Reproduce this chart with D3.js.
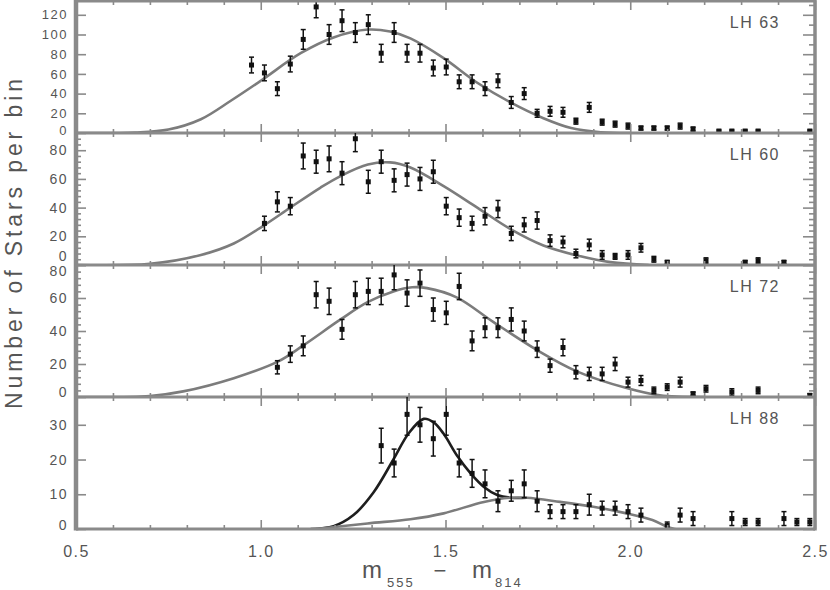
<!DOCTYPE html>
<html><head><meta charset="utf-8">
<script src="https://cdn.jsdelivr.net/npm/d3@7"></script>
<style>body{margin:0;background:#fff}svg{display:block}</style>
</head><body><svg id="c" width="830" height="590"></svg>
<script>
// ---- data ----
const bins = [0.975,1.010,1.045,1.080,1.115,1.150,1.185,1.220,1.256,1.291,
  1.326,1.361,1.396,1.431,1.467,1.502,1.537,1.572,1.607,1.642,
  1.678,1.713,1.748,1.783,1.818,1.853,1.889,1.924,1.959,1.994,
  2.029,2.064,2.100,2.135,2.170,2.205,2.240,2.275,2.311,2.346,
  2.381,2.416,2.451,2.486];

const lh63Counts = [69,61,45,70,95,128,100,114,102,110, 81,102,81,81,66, 67,52,52,45,53, 31,40,20,22,21, 12,26,11,9,7, 5,5,5,7,4, null,2,2,2,2, null,null,null,2];
const lh63Errors = [8,8,7,8,10,11,10,11,10,10, 9,10,9,9,8, 8,7,7,7,7, 6,6,4,5,5, 3,5,3,3,3, 2,2,2,3,2, null,1,1,1,1, null,null,null,1];

const lh60Counts = [null,29,44,41,76,72,74,64,88,58, 72,59,63,60,65, 41,33,29,34,39, 22,28,31,17,16, 8,14,7,6,7, 12,4,2,null,null, 3,null,null,2,3, null,2,null,null];
const lh60Errors = [null,5,7,6,9,8,9,8,9,8, 8,8,8,8,8, 6,6,5,6,6, 5,5,6,4,4, 3,4,3,2,3, 3,2,1,null,null, 2,null,null,1,2, null,1,null,null];

const lh72Counts = [null,null,18,26,31,62,58,41,62,64, 64,74,63,69,53, 51,67,34,42,42, 47,40,29,19,30, 15,14,14,20,9, 10,4,6,9,2, 5,null,3,null,4, null,null,null,1];
const lh72Errors = [null,null,4,5,6,8,8,6,8,8, 8,9,8,8,7, 7,8,6,6,6, 7,6,5,4,5, 4,4,4,4,3, 3,2,2,3,1, 2,null,2,null,2, null,null,null,1];

const lh88Counts = [null,null,null,null,null,null,null,null,null,null, 24,19,33,30,26, 33,19,16,13,8, 11,13,8,5,5, 5,7,6,6,5, 4,null,1,4,3, null,null,3,2,2, null,3,2,2];
const lh88Errors = [null,null,null,null,null,null,null,null,null,null, 5,4,6,5,5, 6,4,4,4,3, 3,4,3,2,2, 2,3,2,2,2, 2,null,1,2,2, null,null,2,1,1, null,2,1,1];

const lh63CurveX = [0.5,0.66,0.75,0.838,0.92,1.0,1.108,1.197,1.29,1.35,1.405,1.495,1.586,1.676,1.765,1.84,1.92,2.0];
const lh63CurveY = [0,0.5,3.5,14,33,53,81,97,105,103,96,76,51,31,15,5,0.8,0];
const lh60CurveX = [0.5,0.7,0.838,0.927,1.008,1.08,1.162,1.216,1.29,1.35,1.405,1.495,1.586,1.676,1.765,1.857,1.946,2.05];
const lh60CurveY = [0,0.8,7,15,27.5,40,54,62,70,71.5,68,55,40,25,13.6,6.6,2,0];
const lh72CurveX = [0.5,0.7,0.79,0.927,1.046,1.116,1.216,1.289,1.359,1.41,1.45,1.53,1.63,1.748,1.857,1.99,2.08,2.2];
const lh72CurveY = [0,0.6,3.4,11.4,21.4,31.4,47,57.5,64,66.5,66,60.4,45.4,28.4,15.4,5.4,1,0];
const lh88TotalX = [1.135,1.197,1.251,1.305,1.359,1.40,1.441,1.468,1.495,1.532,1.568,1.604,1.64,1.676,1.72];
const lh88TotalY = [0,0.8,4,10.5,20,27.5,31.7,30.7,27.4,21,16,12.1,9.8,9,9];
const lh88BroadX = [1.15,1.289,1.405,1.495,1.604,1.676,1.72,1.81,1.9,1.99,2.06,2.12,2.5];
const lh88BroadY = [0,1.6,2.8,4.5,7.8,9,9,7.8,6.4,4.5,2.6,0,0];

const xTickValues = [0.5,1.0,1.5,2.0,2.5];
const lh63YTicks = [0,20,40,60,80,100,120];
const lh60YTicks = [0,20,40,60,80];
const lh72YTicks = [0,20,40,60,80];
const lh88YTicks = [0,10,20,30];

// ---- layout ----
const left = 76, right = 815, top0 = 1, ph = 132;
const axisCol = "#8a8a8a", textCol = "#555", curveCol = "#7c7c7c";
const tf = "Liberation Sans, Arial, sans-serif";
const svg = d3.select("#c");
const x = d3.scaleLinear().domain([0.5, 2.5]).range([left, right]);

const panels = [
  {name:"LH 63", counts:lh63Counts, errors:lh63Errors, max:134, ticks:lh63YTicks, minorL:null, minorR:10,
   zeroDy:"0.1em", topDy:"0.32em", size:13,
   curves:[{x:lh63CurveX, y:lh63CurveY, c:curveCol}]},
  {name:"LH 60", counts:lh60Counts, errors:lh60Errors, max:92, ticks:lh60YTicks, minorL:4, minorR:4,
   zeroDy:"-0.3em", topDy:"0.32em", size:14,
   curves:[{x:lh60CurveX, y:lh60CurveY, c:curveCol}]},
  {name:"LH 72", counts:lh72Counts, errors:lh72Errors, max:80, ticks:lh72YTicks, minorL:4, minorR:4,
   zeroDy:"-0.05em", topDy:"0.75em", size:14,
   curves:[{x:lh72CurveX, y:lh72CurveY, c:curveCol}]},
  {name:"LH 88", counts:lh88Counts, errors:lh88Errors, max:38, ticks:lh88YTicks, minorL:null, minorR:null,
   zeroDy:"0.0em", topDy:"0.32em", size:14,
   curves:[{x:lh88TotalX, y:lh88TotalY, c:"#1e1e1e"}, {x:lh88BroadX, y:lh88BroadY, c:curveCol}]}
];

const minorX = d3.range(5, 26).map(d => d / 10).filter(d => !xTickValues.some(v => Math.abs(v - d) < 1e-9));

panels.forEach((p, i) => {
  const y0 = top0 + i * ph, y1 = y0 + ph;
  const y = d3.scaleLinear().domain([0, p.max]).range([y1, y0]);
  const g = svg.append("g");
  const cid = "clip" + i;
  svg.append("clipPath").attr("id", cid).append("rect")
    .attr("x", left).attr("y", y0).attr("width", right - left).attr("height", ph);
  const pg = g.append("g").attr("clip-path", `url(#${cid})`);

  // curves
  p.curves.forEach(c => {
    const pts = c.x.map((v, k) => [v, c.y[k]]);
    pg.append("path").datum(pts)
      .attr("d", d3.line().x(d => x(d[0])).y(d => Math.min(y(d[1]), y1)).curve(d3.curveCatmullRom.alpha(0.5)))
      .attr("fill", "none").attr("stroke", c.c).attr("stroke-width", 2.6);
  });

  // data points
  const pts = bins.map((b, k) => ({x: b, v: p.counts[k], e: p.errors[k]})).filter(d => d.v != null);
  const eb = pg.append("g").attr("stroke", "#111").attr("stroke-width", 1.5);
  pts.forEach(d => {
    const cx = x(d.x), e = d.e || 0;
    eb.append("line").attr("x1", cx).attr("x2", cx).attr("y1", y(d.v - e)).attr("y2", y(d.v + e));
    eb.append("line").attr("x1", cx - 2.5).attr("x2", cx + 2.5).attr("y1", y(d.v + e)).attr("y2", y(d.v + e));
    eb.append("line").attr("x1", cx - 2.5).attr("x2", cx + 2.5).attr("y1", y(d.v - e)).attr("y2", y(d.v - e));
  });
  pg.append("g").selectAll("rect").data(pts).join("rect")
    .attr("x", d => x(d.x) - 2.5).attr("y", d => y(d.v) - 2.5)
    .attr("width", 5).attr("height", 5).attr("fill", "#111");

  // ticks (inward)
  const tickStyle = sel => { sel.select(".domain").remove(); sel.selectAll("line").attr("stroke", axisCol).attr("stroke-width", 1.6); sel.selectAll("text").remove(); };
  g.append("g").attr("transform", `translate(${left},0)`).call(d3.axisRight(y).tickValues(p.ticks).tickSize(10)).call(tickStyle);
  g.append("g").attr("transform", `translate(${right},0)`).call(d3.axisLeft(y).tickValues(p.ticks).tickSize(12)).call(tickStyle);
  if (p.minorL) g.append("g").attr("transform", `translate(${left},0)`).call(d3.axisRight(y).tickValues(d3.range(0, p.max, p.minorL).filter(v => !p.ticks.includes(v))).tickSize(5)).call(tickStyle);
  if (p.minorR) g.append("g").attr("transform", `translate(${right},0)`).call(d3.axisLeft(y).tickValues(d3.range(0, p.max, p.minorR).filter(v => !p.ticks.includes(v))).tickSize(6)).call(tickStyle);
  g.append("g").attr("transform", `translate(0,${y0})`).call(d3.axisBottom(x).tickValues(xTickValues).tickSize(9)).call(tickStyle);
  g.append("g").attr("transform", `translate(0,${y1})`).call(d3.axisTop(x).tickValues(xTickValues).tickSize(9)).call(tickStyle);
  g.append("g").attr("transform", `translate(0,${y0})`).call(d3.axisBottom(x).tickValues(minorX).tickSize(4)).call(tickStyle);
  g.append("g").attr("transform", `translate(0,${y1})`).call(d3.axisTop(x).tickValues(minorX).tickSize(4)).call(tickStyle);

  // tick labels
  const lastTick = p.ticks[p.ticks.length - 1];
  const lab = g.append("g").attr("transform", `translate(${left},0)`)
    .call(d3.axisLeft(y).tickValues(p.ticks).tickSize(0).tickPadding(8));
  lab.select(".domain").remove();
  lab.selectAll("text").attr("fill", textCol).attr("font-family", tf)
    .attr("font-size", p.size).attr("letter-spacing", "1.5px")
    .attr("dy", d => d === 0 ? p.zeroDy : (d === lastTick ? p.topDy : "0.32em"));

  // panel frame line (bottom)
  g.append("line").attr("x1", left).attr("x2", right).attr("y1", y1).attr("y2", y1)
    .attr("stroke", axisCol).attr("stroke-width", 3);

  // panel name
  g.append("text").attr("x", 780).attr("y", y0 + 27).attr("text-anchor", "end")
    .attr("fill", textCol).attr("font-family", tf)
    .attr("font-size", 16).attr("letter-spacing", "1.5px").text(p.name);
});

// outer frame
svg.append("line").attr("x1", left).attr("x2", right).attr("y1", top0).attr("y2", top0).attr("stroke", axisCol).attr("stroke-width", 3);
svg.append("line").attr("x1", left).attr("x2", left).attr("y1", 0).attr("y2", top0 + 4 * ph + 1.5).attr("stroke", axisCol).attr("stroke-width", 4.5);
svg.append("line").attr("x1", right).attr("x2", right).attr("y1", 0).attr("y2", top0 + 4 * ph + 1.5).attr("stroke", axisCol).attr("stroke-width", 3.5);

// x tick labels
const xl = svg.append("g").attr("transform", `translate(0,${top0 + 4 * ph})`)
  .call(d3.axisBottom(x).tickValues(xTickValues).tickFormat(d3.format(".1f")).tickSize(0).tickPadding(17));
xl.select(".domain").remove();
xl.selectAll("text").attr("fill", textCol).attr("font-family", tf)
  .attr("font-size", 16).attr("letter-spacing", "1.5px");

// x title
svg.append("text").attr("x", 362).attr("y", 578).attr("fill", textCol).attr("font-family", tf).attr("font-size", 24).text("m");
svg.append("text").attr("x", 387).attr("y", 587).attr("fill", textCol).attr("font-family", tf).attr("font-size", 13).attr("letter-spacing", "2px").text("555");
svg.append("text").attr("x", 440).attr("y", 578).attr("text-anchor", "middle").attr("fill", textCol).attr("font-family", tf).attr("font-size", 22).text("\u2212");
svg.append("text").attr("x", 472).attr("y", 578).attr("fill", textCol).attr("font-family", tf).attr("font-size", 24).text("m");
svg.append("text").attr("x", 495).attr("y", 587).attr("fill", textCol).attr("font-family", tf).attr("font-size", 13).attr("letter-spacing", "2px").text("814");

// y title
svg.append("text").attr("transform", "translate(22,244) rotate(-90)").attr("text-anchor", "middle")
  .attr("fill", textCol).attr("font-family", tf).attr("font-size", 23)
  .attr("textLength", 330).attr("lengthAdjust", "spacing").text("Number of Stars per bin");
</script></body></html>
